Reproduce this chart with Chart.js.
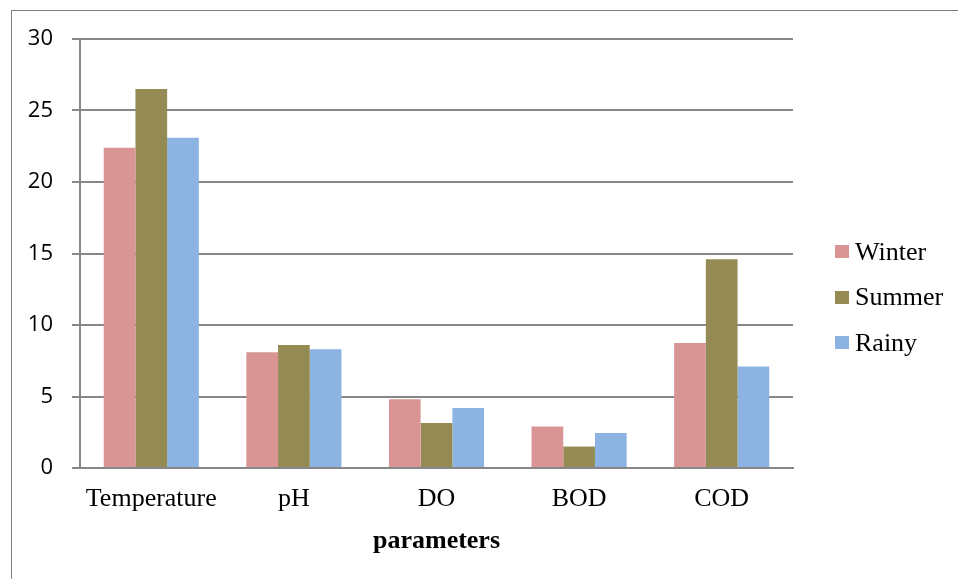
<!DOCTYPE html>
<html>
<head>
<meta charset="utf-8">
<script src="https://cdn.jsdelivr.net/npm/chart.js@4"></script>
<style>
  body { margin: 0; background: #fff; }
  #wrap { position: relative; width: 958px; height: 579px; }
  #frame { position: absolute; left: 11px; top: 10px; right: -5px; bottom: -5px;
           border-left: 1px solid #808080; border-top: 1px solid #808080; }
  #legend { position: absolute; left: 835px; top: 229px;
            font-family: "Liberation Serif", "Times New Roman", serif; font-size: 26px; }
  .item { height: 45.5px; display: flex; align-items: center; }
  .box { width: 14px; height: 13px; margin-right: 6px; }
</style>
</head>
<body>
<div id="wrap">
  <div id="frame"></div>
  <canvas id="chart" width="958" height="579"></canvas>
  <div id="legend"></div>
</div>
<script>
// Datos
const categories = ["Temperature", "pH", "DO", "BOD", "COD"];
const seriesNames = ["Winter", "Summer", "Rainy"];
const winter = [22.4, 8.1, 4.8, 2.9, 8.75];
const summer = [26.5, 8.6, 3.15, 1.5, 14.6];
const rainy = [23.1, 8.3, 4.2, 2.45, 7.1];
const yTicks = [0, 5, 10, 15, 20, 25, 30];
const colors = ["#D99594", "#948A54", "#8DB3E2"];

const gridColor = "#878787";

// Crear gráfico de barras
function createChart() {
  const ctx = document.getElementById("chart").getContext("2d");
  const values = [winter, summer, rainy];
  return new Chart(ctx, {
    type: "bar",
    data: {
      labels: categories,
      datasets: seriesNames.map((name, i) => ({
        label: name,
        data: values[i],
        backgroundColor: colors[i],
        borderWidth: 0,
        categoryPercentage: 0.667,
        barPercentage: 1
      }))
    },
    options: {
      responsive: false,
      animation: false,
      layout: { padding: { left: 0, right: 165, top: 39, bottom: 0 } },
      plugins: { legend: { display: false }, tooltip: { enabled: false } },
      scales: {
        x: {
          grid: { display: false, drawTicks: false },
          border: { display: true, color: gridColor, width: 2 },
          ticks: {
            color: "#000",
            padding: 16,
            font: { family: "'Liberation Serif', 'Times New Roman', serif", size: 26 }
          },
          title: {
            display: true,
            text: "parameters",
            color: "#000",
            padding: { top: 0, bottom: 22 },
            font: { family: "'Liberation Serif', 'Times New Roman', serif", size: 26, weight: "bold" }
          },
          afterFit: function (scale) { scale.height = 111; }
        },
        y: {
          min: 0,
          max: 30,
          afterBuildTicks: function (scale) {
            scale.ticks = yTicks.map(v => ({ value: v }));
          },
          grid: { color: gridColor, lineWidth: 2, tickLength: 8 },
          border: { display: true, color: gridColor, width: 2 },
          ticks: {
            color: "#000",
            padding: 19,
            font: { family: "'Open Sans', sans-serif", size: 22 }
          },
          afterFit: function (scale) { scale.width = 80; }
        }
      }
    }
  });
}

// Leyenda en HTML
function buildLegend(chart) {
  const legend = document.getElementById("legend");
  chart.data.datasets.forEach(ds => {
    const row = document.createElement("div");
    row.className = "item";
    row.innerHTML = `<span class="box" style="background:${ds.backgroundColor}"></span><span>${ds.label}</span>`;
    legend.appendChild(row);
  });
}

document.addEventListener("DOMContentLoaded", function () {
  const chart = createChart();
  buildLegend(chart);
});
</script>
</body>
</html>
